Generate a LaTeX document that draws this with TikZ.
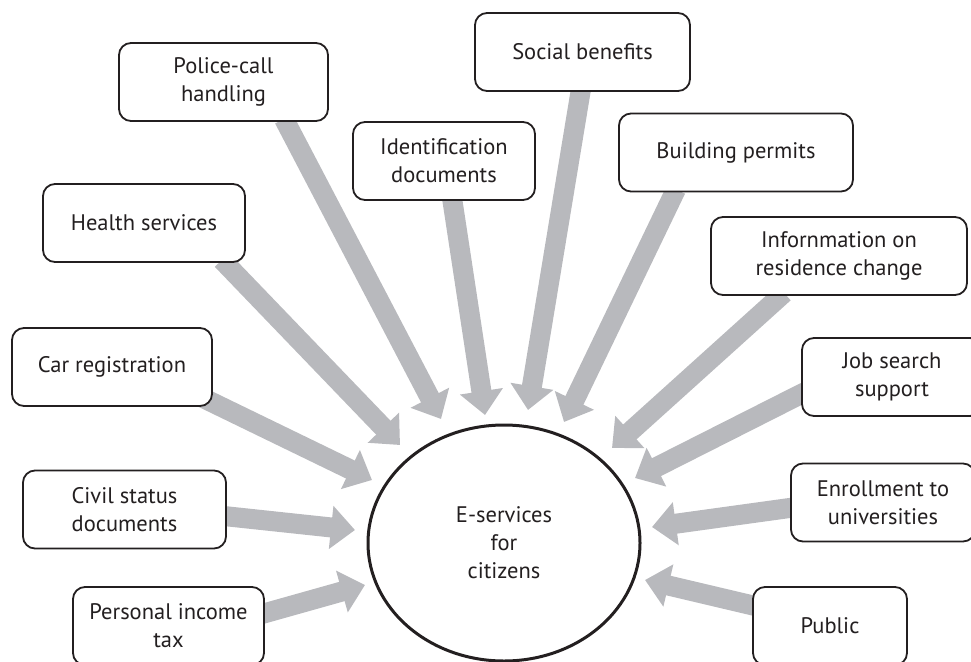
\documentclass[tikz,border=0pt]{standalone}
\usepackage{fontspec}
\setmainfont{PT Sans}
\usetikzlibrary{arrows.meta,calc,shapes.geometric}
\definecolor{arrowgray}{RGB}{184,185,189}
\definecolor{ink}{RGB}{35,31,32}
\pgfdeclarelayer{background}
\pgfsetlayers{background,main}
\begin{document}
\begin{tikzpicture}[x=1pt,y=-1pt,
  box/.style={draw=ink,line width=1.8pt,rounded corners=12pt,fill=white,align=center,
    inner sep=0pt,minimum height=78pt,font=\fontsize{22.5}{28}\selectfont,text=ink},
  hub/.style={draw=ink,line width=3pt,ellipse,inner sep=0pt,align=center,
    font=\fontsize{22.5}{28}\selectfont,text=ink},
  feed/.style={draw=arrowgray,line width=20pt,-{Triangle[width=42pt,length=24pt]}}]
\useasboundingbox (0,0) rectangle (971,661);

\node[hub,minimum width=272pt,minimum height=236pt] (hub) at (504,543) {E-services\\for\\citizens};

\node[box,minimum width=209pt] (police) at (223.5,82) {Police-call\\handling};
\node[box,minimum width=215pt] (social) at (582.5,52) {Social benefits};
\node[box,minimum width=182pt] (ident) at (444,161) {Identification\\documents};
\node[box,minimum width=234pt] (build) at (736,152.5) {Building permits};
\node[box,minimum width=202pt] (health) at (144,223) {Health services};
\node[box,minimum width=256pt] (info) at (839,256) {Infornmation on\\residence change};
\node[box,minimum width=200pt] (car) at (112,367) {Car registration};
\node[box,minimum width=180pt] (job) at (892,377) {Job search\\support};
\node[box,minimum width=203pt] (civil) at (124.5,509.5) {Civil status\\documents};
\node[box,minimum width=184pt] (enroll) at (883,502.5) {Enrollment to\\universities};
\node[box,minimum width=191pt] (tax) at (168.5,626) {Personal income\\tax};
\node[box,minimum width=154pt] (public) at (830,626) {Public};

\coordinate (tPolice) at (441,419);
\coordinate (tHealth) at (400,445);
\coordinate (tIdent) at (485,415);
\coordinate (tSocial) at (528,410);
\coordinate (tBuild) at (564,422);
\coordinate (tInfo) at (612,448);
\coordinate (tCar) at (372,480);
\coordinate (tJob) at (635,478);
\coordinate (tCivil) at (355,530);
\coordinate (tEnroll) at (652,527);
\coordinate (tTax) at (365,585);
\coordinate (tPublic) at (645,580);

\begin{pgfonlayer}{background}
\draw[feed] ($(police.south)+(60.5,-3)$) -- (tPolice);
\draw[feed] ($(health.south)+(78,-3)$) -- (tHealth);
\draw[feed] ($(ident.south)+(8,-3)$) -- (tIdent);
\draw[feed] ($(social.south)+(-1.5,-3)$) -- (tSocial);
\draw[feed] ($(build.south)+(-60,-3)$) -- (tBuild);
\draw[feed] ($(info.south)+(-55,-3)$) -- (tInfo);
\draw[feed] ($(car.south east)+(-10,-9)$) -- (tCar);
\draw[feed] ($(job.west)+(4,15)$) -- (tJob);
\draw[feed] ($(civil.east)+(-3,6.5)$) -- (tCivil);
\draw[feed] ($(enroll.west)+(3,5)$) -- (tEnroll);
\draw[feed] ($(tax.east)+(-3,-12)$) -- (tTax);
\draw[feed] ($(public.west)+(3,-20)$) -- (tPublic);
\end{pgfonlayer}
\end{tikzpicture}
\end{document}
